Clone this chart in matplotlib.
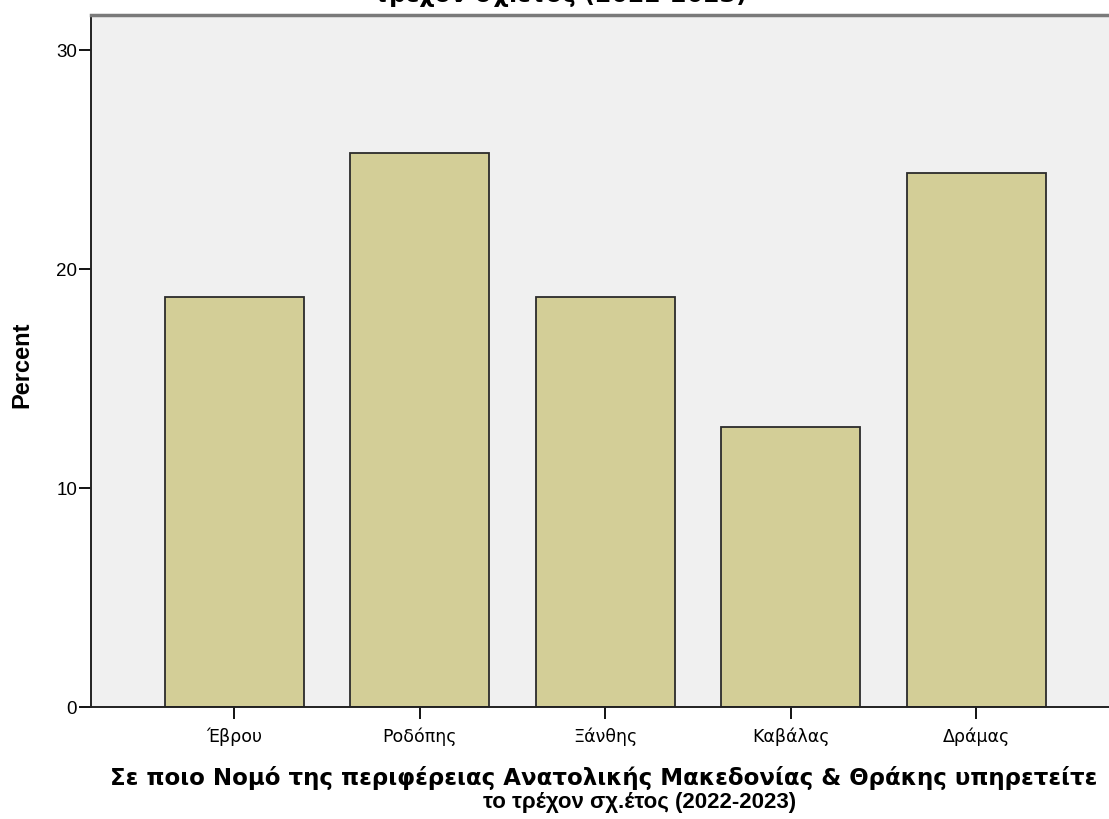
import matplotlib
matplotlib.use("Agg")
import matplotlib.pyplot as plt

# values (percent of respondents)
categories = ["Έβρου", "Ροδόπης", "Ξάνθης", "Καβάλας", "Δράμας"]
percent = [18.7, 25.3, 18.7, 12.8, 24.4]
y_ticks = [0, 10, 20, 30]

xlabel_line1 = "Σε ποιο Νομό της περιφέρειας Ανατολικής Μακεδονίας & Θράκης υπηρετείτε"
xlabel_line2 = "το τρέχον σχ.έτος (2022-2023)"
title_tail = "τρέχον σχ.έτος (2022-2023)"

W, H = 1109, 819
fig = plt.figure(figsize=(W / 100, H / 100), dpi=100)
plt.rcParams["font.family"] = ["Liberation Sans", "DejaVu Sans"]

# axes box in pixels: left 91, top 15, bottom 707, runs off the right edge
ax = fig.add_axes([91 / W, 1 - 707 / H, 1 - 91 / W, (707 - 15) / H])
ax.set_facecolor("#f0f0f0")

x = list(range(len(categories)))
ax.bar(x, percent, width=0.75, color="#d3ce97", edgecolor="#2b2b2b", linewidth=1.3, zorder=2)

ax.set_xlim(-0.774, 4.717)
ax.set_ylim(0, 31.6)
ax.set_yticks(y_ticks)
ax.set_xticks(x)
ax.set_xticklabels(categories, fontsize=12.5, family=["DejaVu Sans"])
ax.tick_params(axis="y", labelsize=13.5, length=9, width=1.3, pad=1)
ax.tick_params(axis="x", length=8.5, width=1.3, pad=6)

for s in ["left", "bottom"]:
    ax.spines[s].set_color("#222222")
    ax.spines[s].set_linewidth(1.4)
ax.spines["top"].set_color("#7a7a7a")
ax.spines["top"].set_linewidth(2.5)
ax.spines["right"].set_visible(False)

# axis titles placed by pixel
fig.text(22 / W, 1 - 365 / H, "Percent", rotation=90, fontsize=17, fontweight="bold",
         ha="center", va="center")
fig.text(604 / W, 1 - 785 / H, xlabel_line1, fontsize=16.5, fontweight="bold",
         family=["DejaVu Sans"], ha="center", va="baseline")
fig.text(640 / W, 1 - 808 / H, xlabel_line2, fontsize=16, fontweight="bold",
         ha="center", va="baseline")

# chart title, mostly cut off by the top edge
fig.text(560 / W, 1 - 2 / H, title_tail, fontsize=17, fontweight="bold",
         family=["DejaVu Sans"], ha="center", va="baseline")

fig.savefig("out.png", dpi=100)
